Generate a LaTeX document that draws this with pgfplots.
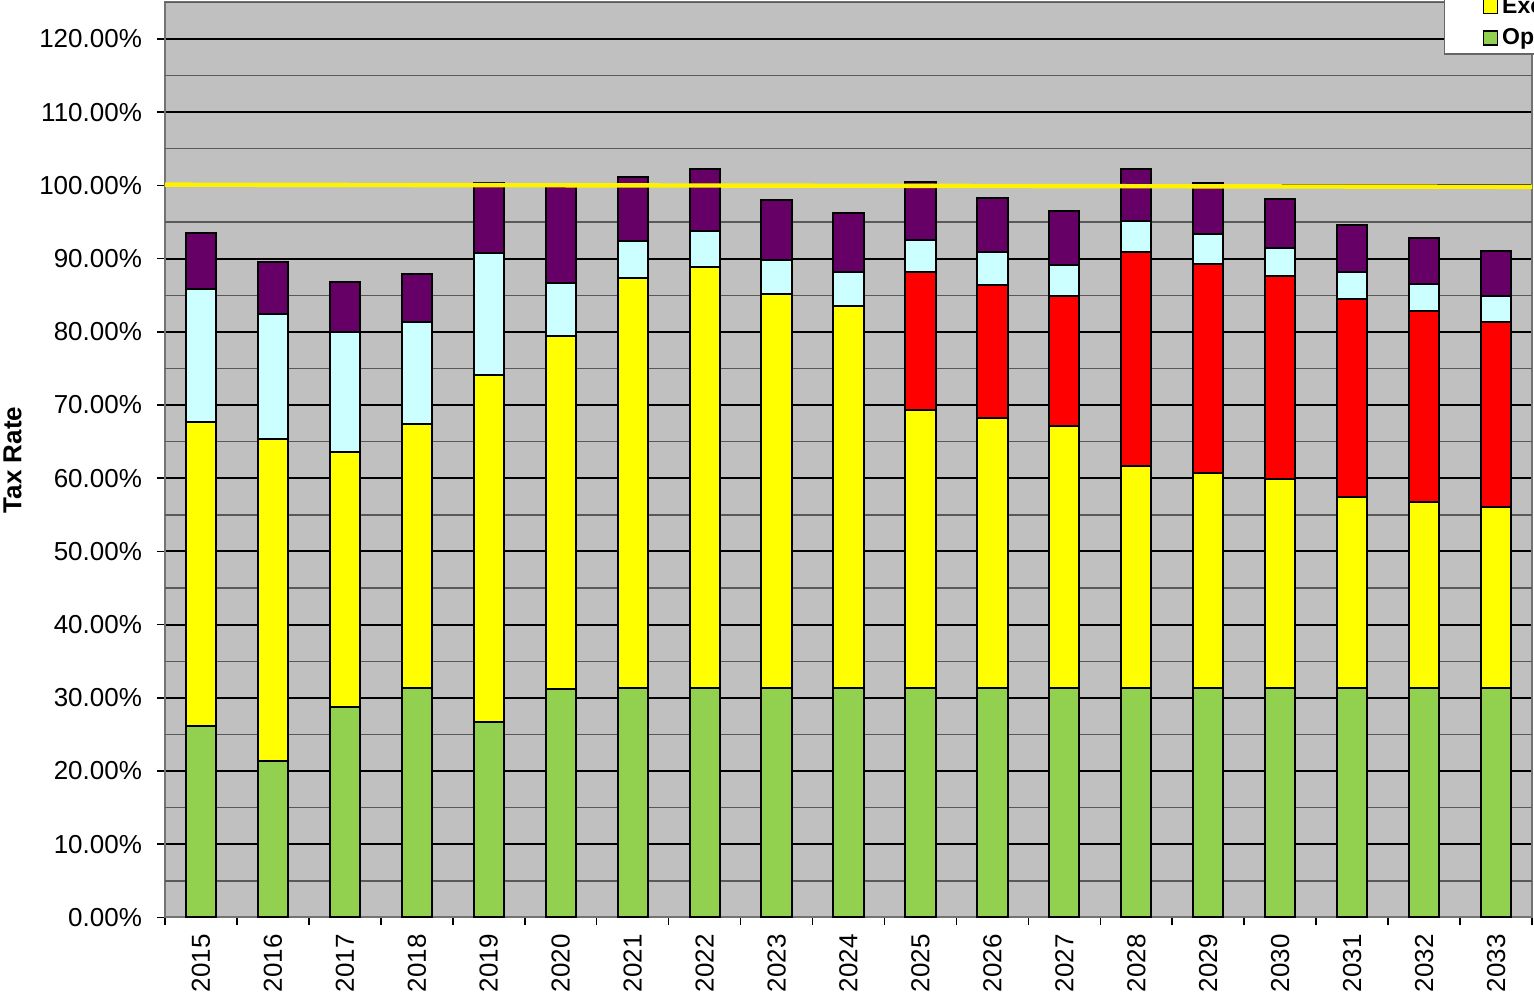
\documentclass[border=0pt]{standalone}
\usepackage{pgfplots}
\pgfplotsset{compat=1.18}
\usepackage{fontspec}
\setmainfont{Liberation Sans}
\usetikzlibrary{calc}
\definecolor{cgreen}{RGB}{146,208,80}
\definecolor{cyellow}{RGB}{255,255,0}
\definecolor{cred}{RGB}{255,0,0}
\definecolor{ccyan}{RGB}{204,255,255}
\definecolor{cpurple}{RGB}{102,0,102}
\definecolor{cbg}{RGB}{192,192,192}
\begin{document}
\begin{tikzpicture}
\begin{axis}[
  name=ax,
  scale only axis,
  width=683.5pt, height=457.5pt,
  xmin=-0.5, xmax=18.5,
  ymin=0, ymax=125,
  ybar stacked,
  bar width=0.42,
  axis background/.style={fill=cbg},
  axis line style={draw=black!55, line width=1pt},
  tick pos=left,
  xtick={0,...,18},
  xticklabels={2015,2016,2017,2018,2019,2020,2021,2022,2023,2024,2025,2026,2027,2028,2029,2030,2031,2032,2033},
  x tick label style={rotate=90, anchor=east, font=\fontsize{13}{14}\selectfont, xshift=-1pt},
  minor xtick={-0.5,0.5,...,18.5},
  ytick={0,10,...,120},
  yticklabels={0.00\%,10.00\%,20.00\%,30.00\%,40.00\%,50.00\%,60.00\%,70.00\%,80.00\%,90.00\%,100.00\%,110.00\%,120.00\%},
  y tick label style={font=\fontsize{13}{14}\selectfont, xshift=-4pt},
  tick align=outside,
  major tick length=4pt,
  minor tick length=4pt,
  major x tick style={draw=none},
  tick style={black, line width=0.8pt},
  ymajorgrids,
  major grid style={black, line width=1pt},
  extra y ticks={5,15,...,125},
  extra y tick labels={},
  extra y tick style={grid=major, major grid style={black!65, line width=0.7pt}, tick style={draw=none}},
  ylabel={\textbf{Tax Rate}},
  ylabel style={font=\fontsize{13}{14}\selectfont, yshift=-6pt},
  every axis plot/.append style={draw=black, line width=1pt},
  legend style={at={(rel axis cs:0.9356,0.943)}, anchor=south west, draw=black!60, line width=0.6pt,
    font=\bfseries\fontsize{11.5}{12}\selectfont, inner xsep=19pt, inner ysep=1pt, row sep=2pt, cells={anchor=west}},
  legend image code/.code={\draw[#1, line width=0.8pt] (0pt,-3.5pt) rectangle (7pt,3.5pt);},
  reverse legend,
  clip=false,
]
\addplot[fill=cgreen] coordinates {(0,26.1)(1,21.3)(2,28.7)(3,31.4)(4,26.65)(5,31.2)(6,31.4)(7,31.4)(8,31.4)(9,31.4)(10,31.4)(11,31.4)(12,31.4)(13,31.4)(14,31.4)(15,31.4)(16,31.4)(17,31.4)(18,31.4)};
\addplot[fill=cyellow] coordinates {(0,41.55)(1,44.0)(2,34.85)(3,36.0)(4,47.45)(5,48.2)(6,55.9)(7,57.5)(8,53.75)(9,52.15)(10,37.9)(11,36.8)(12,35.7)(13,30.2)(14,29.3)(15,28.5)(16,26.1)(17,25.3)(18,24.6)};
\addplot[fill=cred] coordinates {(0,0)(1,0)(2,0)(3,0)(4,0)(5,0)(6,0)(7,0)(8,0)(9,0)(10,18.85)(11,18.2)(12,17.8)(13,29.3)(14,28.6)(15,27.75)(16,26.95)(17,26.15)(18,25.35)};
\addplot[fill=ccyan] coordinates {(0,18.15)(1,17.1)(2,16.4)(3,13.9)(4,16.65)(5,7.3)(6,5.1)(7,4.9)(8,4.65)(9,4.65)(10,4.35)(11,4.45)(12,4.2)(13,4.25)(14,4.05)(15,3.85)(16,3.75)(17,3.65)(18,3.55)};
\addplot[fill=cpurple] coordinates {(0,7.7)(1,7.1)(2,6.85)(3,6.6)(4,9.55)(5,13.5)(6,8.7)(7,8.4)(8,8.2)(9,8.0)(10,7.95)(11,7.4)(12,7.35)(13,7.05)(14,6.95)(15,6.7)(16,6.45)(17,6.35)(18,6.15)};
\legend{Operating Tax,Excise Tax,Reserve,Credit,Other}
\end{axis}
\begin{axis}[
  scale only axis,
  width=683.5pt, height=457.5pt,
  xmin=-0.5, xmax=18.5,
  ymin=0, ymax=125,
  hide axis,
  clip=false,
]
\addplot[draw=yellow, line width=2.2pt, no markers] coordinates {(-0.5,100.1)(18.5,99.8)};
\end{axis}
\pgfresetboundingbox
\useasboundingbox ($(ax.south west)+(-82.5pt,-40pt)$) rectangle ($(ax.north east)+(1pt,1.2pt)$);
\end{tikzpicture}
\end{document}
